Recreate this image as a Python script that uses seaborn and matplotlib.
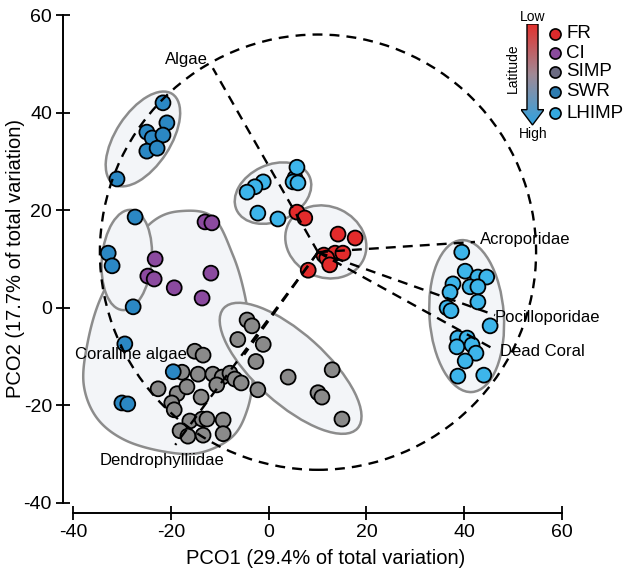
import numpy as np
import pandas as pd
import matplotlib
matplotlib.use("Agg")
import matplotlib.pyplot as plt
import seaborn as sns
from matplotlib.patches import Ellipse, Polygon, Circle
from matplotlib.colors import LinearSegmentedColormap

# ---------------- data ----------------
fr_x = [5.8, 7.4, 14.2, 17.7, 11.3, 13.6, 15.2, 11.9, 12.5, 8.1]
fr_y = [19.6, 18.4, 15.1, 14.3, 10.8, 11.2, 11.2, 10.2, 8.8, 7.7]

ci_x = [-13.0, -11.6, -23.2, -24.7, -23.4, -11.8, -19.3, -13.6]
ci_y = [17.6, 17.4, 10.0, 6.5, 5.9, 7.1, 4.1, 2.0]

simp_x = [-15.1, -13.4, -17.7, -14.4, -11.4, -9.5, -10.6, -7.9, -6.9, -5.6,
          -22.6, -18.7, -16.7, -13.8, -19.8, -19.3, -16.1, -13.6, -12.6, -9.3,
          -18.1, -16.5, -13.4, -9.3, -2.2,
          -4.4, -3.4, -6.3, -1.1, -2.6, 4.0, 13.0, 10.1, 10.9, 15.0]
simp_y = [-8.9, -9.7, -13.2, -13.6, -13.6, -14.2, -15.8, -13.4, -14.6, -15.4,
          -16.6, -17.6, -16.2, -18.3, -19.5, -20.9, -23.2, -22.8, -22.8, -23.0,
          -25.2, -26.3, -26.1, -25.8, -16.8,
          -2.5, -3.7, -6.5, -7.5, -11.0, -14.2, -12.7, -17.4, -18.3, -22.8]

swr_x = [-21.6, -20.8, -24.9, -23.8, -21.6, -24.9, -22.8, -31.0,
         -27.3, -32.8, -32.0, -27.7, -29.4, -19.5, -30.0, -28.8, 5.4]
swr_y = [42.0, 37.9, 36.0, 34.8, 35.4, 32.1, 32.7, 26.4,
         18.6, 11.2, 8.6, 0.2, -7.4, -13.1, -19.5, -19.7, 26.6]

lhimp_x = [5.8, 5.0, 6.0, -1.1, -2.8, -4.4, -2.2, 1.9,
           39.5, 40.2, 42.8, 44.6, 37.7, 41.2, 42.8, 37.1, 42.8, 36.5, 37.3,
           45.3, 38.7, 40.6, 38.5, 41.6, 42.4, 40.2, 38.7, 44.0]
lhimp_y = [28.8, 25.8, 25.6, 25.8, 24.8, 23.7, 19.4, 18.2,
           11.4, 7.5, 6.3, 6.3, 4.9, 4.3, 4.3, 3.2, 1.2, 0.0, -0.6,
           -3.7, -6.2, -6.2, -8.0, -7.6, -9.3, -10.9, -14.0, -13.8]

groups = ["FR", "CI", "SIMP", "SWR", "LHIMP"]

# vector overlay (origin and end points)
vec_origin = (10.1, 11.4)
vec_names = ["Algae", "Acroporidae", "Pocilloporidae", "Dead Coral",
             "Coralline algae", "Dendrophylliidae"]
vec_x = [-11.4, 42.2, 46.3, 46.3, -5.0, -19.1]
vec_y = [49.1, 13.5, -1.5, -8.6, -9.6, -28.1]
lab_x = [-21.2, 43.3, 46.3, 47.3, -39.6, -34.5]
lab_y = [50.8, 13.9, -2.0, -9.0, -9.6, -31.2]
circle_r = 44.6

# ---------------- style ----------------
sns.set_style("ticks")
plt.rcParams["font.family"] = ["Liberation Sans", "DejaVu Sans"]
plt.rcParams["axes.unicode_minus"] = False
for k in ["text.color", "axes.labelcolor", "xtick.color", "ytick.color",
          "axes.edgecolor"]:
    plt.rcParams[k] = "black"

point_pal = {"FR": "#e32b2b", "CI": "#8b4a9f", "SIMP": "#8a8a8a",
             "SWR": "#2b88c4", "LHIMP": "#3db5ea"}
legend_pal = {"FR": "#db2a2c", "CI": "#8a4b9c", "SIMP": "#6c6b82",
              "SWR": "#2e7cb0", "LHIMP": "#35a9df"}

frames = []
for g, xs, ys in [("SIMP", simp_x, simp_y), ("CI", ci_x, ci_y),
                  ("SWR", swr_x, swr_y), ("LHIMP", lhimp_x, lhimp_y),
                  ("FR", fr_x, fr_y)]:
    frames.append(pd.DataFrame({"x": xs, "y": ys, "group": g}))
df = pd.concat(frames, ignore_index=True)

fig = plt.figure(figsize=(6.4, 5.75), dpi=100)
ax = fig.add_axes([73 / 640, 72 / 575, 489 / 640, 488 / 575])
ax.set_xlim(-40, 60)
ax.set_ylim(-40, 60)

fill_c = "#f3f5f8"
edge_c = "#8c8c8c"


def smooth_closed(pts, n=24):
    pts = np.asarray(pts, dtype=float)
    N = len(pts)
    out = []
    for i in range(N):
        p0, p1, p2, p3 = pts[i - 1], pts[i], pts[(i + 1) % N], pts[(i + 2) % N]
        for t in np.linspace(0, 1, n, endpoint=False):
            t2, t3 = t * t, t * t * t
            out.append(0.5 * ((2 * p1) + (-p0 + p2) * t
                              + (2 * p0 - 5 * p1 + 4 * p2 - p3) * t2
                              + (-p0 + 3 * p1 - 3 * p2 + p3) * t3))
    return np.array(out)


blob_outline = [(-18.1, 19.8), (-11.4, 18.6), (-7.3, 10.8), (-5.0, 3.2),
                (-3.8, -4.6), (-3.2, -13.8), (-4.4, -21.0), (-7.5, -26.5),
                (-14.0, -29.7), (-21.2, -29.5), (-29.4, -27.1), (-35.1, -22.6),
                (-37.8, -15.8), (-37.1, -7.6), (-34.5, 1.6), (-29.4, 10.8),
                (-23.8, 17.6)]
ax.add_patch(Polygon(smooth_closed(blob_outline), closed=True, facecolor=fill_c,
                     edgecolor=edge_c, lw=1.8, zorder=1))

ellipses = [((-25.7, 34.6), 22.0, 11.2, 57),
            ((-29.0, 9.8), 20.6, 10.2, 85),
            ((0.9, 23.5), 16.4, 11.6, 25),
            ((11.7, 13.5), 17.0, 14.5, -25),
            ((4.5, -12.4), 36.8, 14.4, -42),
            ((40.5, -1.7), 31.2, 15.2, 94)]
for c, w, h, a in ellipses:
    ax.add_patch(Ellipse(c, w, h, angle=a, facecolor=fill_c, edgecolor=edge_c,
                         lw=1.8, zorder=2))

sns.scatterplot(data=df, x="x", y="y", hue="group", palette=point_pal,
                s=115, edgecolor="black", linewidth=1.3, legend=False,
                zorder=3, ax=ax)

dash = (0, (4.2, 3.0))
ax.add_patch(Circle(vec_origin, circle_r, fill=False, edgecolor="black",
                    lw=1.7, linestyle=dash, zorder=4))
for ex, ey in zip(vec_x, vec_y):
    ax.plot([vec_origin[0], ex], [vec_origin[1], ey], color="black", lw=1.7,
            linestyle=dash, zorder=4)
for name, lx, ly in zip(vec_names, lab_x, lab_y):
    ax.text(lx, ly, name, fontsize=12, ha="left", va="center", zorder=5)

ax.set_xticks([-40, -20, 0, 20, 40, 60])
ax.set_yticks([-40, -20, 0, 20, 40, 60])
ax.set_xlabel("PCO1 (29.4% of total variation)", fontsize=14.5)
ax.set_ylabel("PCO2 (17.7% of total variation)", fontsize=14.5)
ax.tick_params(direction="inout", length=10, width=1.3, labelsize=14, pad=3,
               colors="black")
for s in ax.spines.values():
    s.set_linewidth(1.4)
    s.set_color("black")
sns.despine(ax=ax, offset=7.2, trim=True)
ax.xaxis.set_label_coords(0.517, -0.094)
ax.yaxis.set_label_coords(-0.098, 0.5)


# ---------------- legend (latitude arrow + groups) ----------------
def fpx(x, y):
    return (x / 640, 1 - y / 575)


ax2 = fig.add_axes([521 / 640, 1 - 126 / 575, 23 / 640, 102 / 575])
ax2.set_xlim(0, 1)
ax2.set_ylim(0, 1)
ax2.axis("off")
cmap = LinearSegmentedColormap.from_list("lat", ["#e5302c", "#a08a96", "#2ea3e2"])
grad = np.linspace(0, 1, 256).reshape(-1, 1)
im = ax2.imshow(grad, extent=[0, 1, 0, 1], aspect="auto", cmap=cmap,
                origin="upper", zorder=1)
arrow_pts = [(0.26, 1.0), (0.74, 1.0), (0.74, 0.16), (1.0, 0.16), (0.5, 0.01),
             (0.0, 0.16), (0.26, 0.16)]
arrow = Polygon(arrow_pts, closed=True, facecolor="none", edgecolor="black",
                lw=1.0, zorder=2)
ax2.add_patch(arrow)
im.set_clip_path(arrow)

fig.text(*fpx(533, 17), "Low", fontsize=10, ha="center", va="center")
fig.text(*fpx(533, 134), "High", fontsize=10, ha="center", va="center")
fig.text(*fpx(513, 68), "Latitude", fontsize=10, ha="center", va="center",
         rotation=90)

leg_y = [34, 53, 72, 92, 113]
for g, py in zip(groups, leg_y):
    fx, fy = fpx(555, py)
    fig.add_artist(plt.Line2D([fx], [fy], marker="o", markersize=8,
                              markerfacecolor=legend_pal[g],
                              markeredgecolor="black", markeredgewidth=1.2,
                              transform=fig.transFigure))
    fig.text(*fpx(566, py), g, fontsize=13.5, ha="left", va="center")

fig.savefig("out.png", dpi=100)
